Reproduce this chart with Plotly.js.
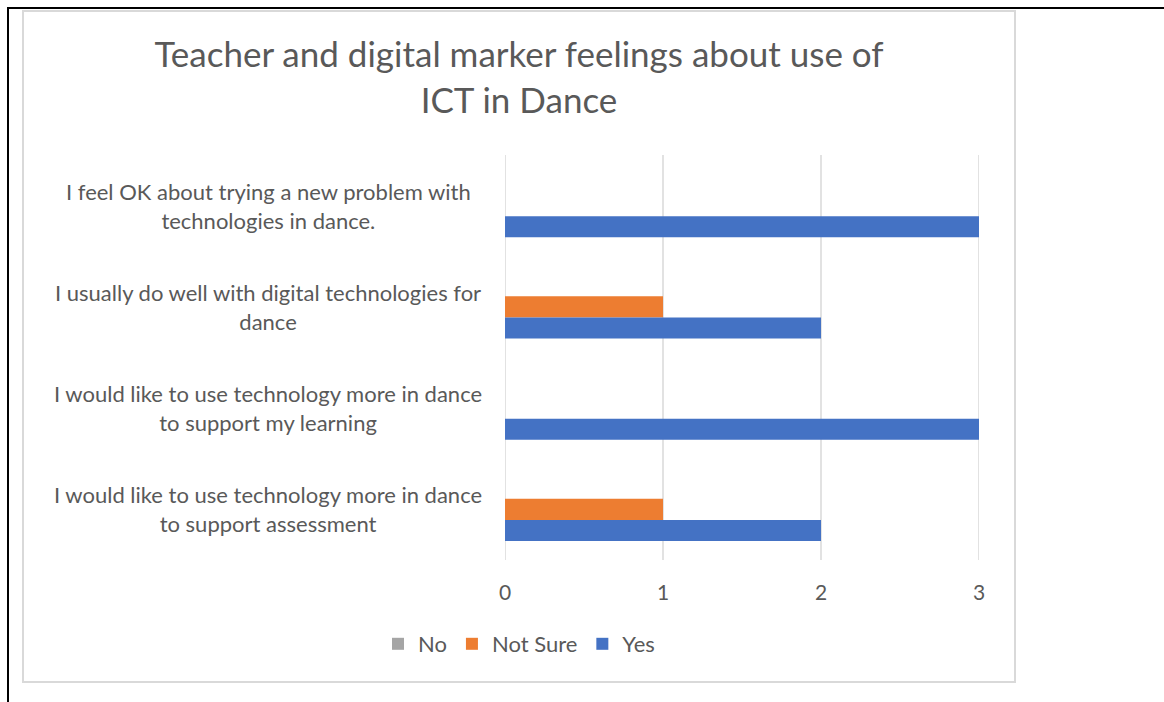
<!DOCTYPE html>
<html>
<head>
<meta charset="utf-8">
<script src="https://cdn.plot.ly/plotly-3.0.1.min.js"></script>
<style>
  html, body { margin: 0; padding: 0; background: #ffffff; width: 1164px; height: 702px; overflow: hidden; }
  #edge { position: absolute; left: 7px; top: 7px; width: 1200px; height: 800px;
          border-top: 2px solid #000; border-left: 2px solid #000; }
  #frame { position: absolute; left: 22px; top: 10px; width: 990px; height: 669px;
           border: 2px solid #d9d9d9; background: #fff; }
  #chart { width: 990px; height: 669px; }
</style>
</head>
<body>
<div id="edge"></div>
<div id="frame"><div id="chart"></div></div>
<script>
// Categories, top to bottom as displayed
var categories = [
  "I feel OK about trying a new problem with<br>technologies in dance.",
  "I usually do well with digital technologies for<br>dance",
  "I would like to use technology more in dance<br>to support my learning",
  "I would like to use technology more in dance<br>to support assessment"
];
var seriesNames = ["No", "Not Sure", "Yes"];
var noValues = [0, 0, 0, 0];
var notSureValues = [0, 1, 0, 1];
var yesValues = [3, 2, 3, 2];
var xTickValues = [0, 1, 2, 3];
var titleText = "Teacher and digital marker feelings about use of<br>ICT in Dance";

var colors = { "No": "#a5a5a5", "Not Sure": "#ed7d31", "Yes": "#4472c4" };
var textColor = "#595959";
var gridColor = "#d9d9d9";
var font = "Lato, 'Open Sans', sans-serif";

var valuesBySeries = [noValues, notSureValues, yesValues];
var traces = seriesNames.map(function (name, i) {
  return {
    type: "bar",
    orientation: "h",
    name: name,
    y: categories,
    x: valuesBySeries[i],
    marker: { color: colors[name] },
    hoverinfo: "x+name"
  };
});

var annotations = categories.map(function (c) {
  return {
    xref: "paper", yref: "y", x: -0.5, y: c,
    xanchor: "center", yanchor: "middle", align: "center",
    text: c, showarrow: false,
    font: { family: font, size: 22, color: textColor }
  };
});

// vertical gridlines at every tick (including the plot edges)
var gridShapes = xTickValues.map(function (v) {
  return {
    type: "line", layer: "below",
    xref: "x", yref: "paper", x0: v, x1: v, y0: 0, y1: 1,
    line: { color: gridColor, width: 1.5 }
  };
});

var layout = {
  width: 990, height: 669,
  paper_bgcolor: "#ffffff", plot_bgcolor: "#ffffff",
  margin: { l: 481, r: 35, t: 143, b: 121 },
  font: { family: font, color: textColor },
  title: {
    text: titleText,
    x: 0.5, xref: "container", xanchor: "center",
    y: 1 - 55 / 669, yref: "container", yanchor: "top",
    font: { family: font, size: 35, color: textColor }
  },
  barmode: "group",
  bargap: 0.375,
  bargroupgap: 0,
  xaxis: {
    range: [0, 3],
    tickvals: xTickValues,
    ticktext: xTickValues.map(String),
    showgrid: false,
    zeroline: false, showline: false, ticks: "",
    ticklabelstandoff: 18,
    tickfont: { family: font, size: 21, color: textColor },
    fixedrange: true
  },
  yaxis: {
    type: "category",
    categoryorder: "array", categoryarray: categories,
    autorange: "reversed",
    showgrid: false, zeroline: false, showline: false, ticks: "",
    showticklabels: false,
    fixedrange: true
  },
  showlegend: true,
  legend: {
    orientation: "h",
    xref: "container", yref: "container",
    x: 0.5, xanchor: "center",
    y: 1 - (644 - 12) / 669, yanchor: "middle",
    font: { family: font, size: 22, color: textColor },
    itemwidth: 30,
    traceorder: "normal"
  },
  shapes: gridShapes,
  annotations: annotations
};

Plotly.newPlot("chart", traces, layout, { displayModeBar: false });
</script>
</body>
</html>
